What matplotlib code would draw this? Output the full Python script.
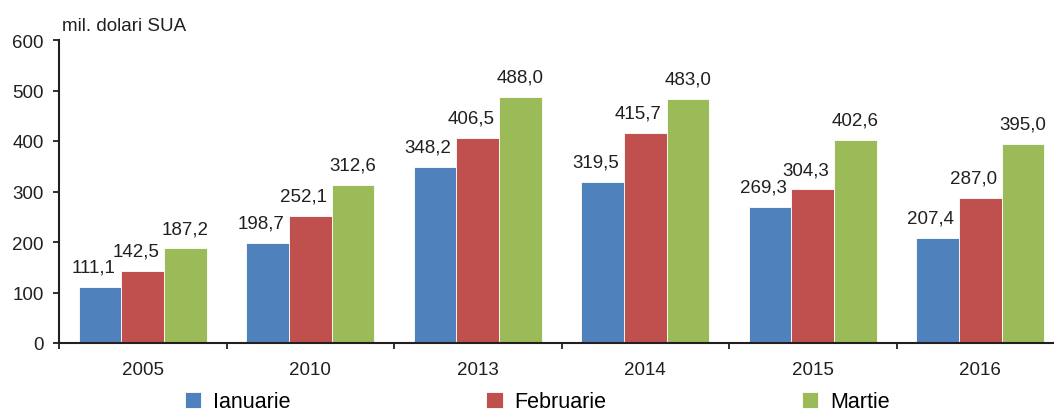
import matplotlib
matplotlib.use("Agg")
import matplotlib.pyplot as plt
import numpy as np

years = ["2005", "2010", "2013", "2014", "2015", "2016"]
series_names = ["Ianuarie", "Februarie", "Martie"]
ianuarie = [111.1, 198.7, 348.2, 319.5, 269.3, 207.4]
februarie = [142.5, 252.1, 406.5, 415.7, 304.3, 287.0]
martie = [187.2, 312.6, 488.0, 483.0, 402.6, 395.0]
yticks = [0, 100, 200, 300, 400, 500, 600]
unit_label = "mil. dolari SUA"

COLORS = ["#4F81BD", "#C0504D", "#9BBB59"]
LABEL_DX = [-5, -5, 0]   # excel puts the labels a bit to the left
TEXT = "#231F20"
FS = 13.5

plt.rcParams["font.family"] = ["Liberation Sans", "DejaVu Sans"]

fig = plt.figure(figsize=(10.54, 4.14), dpi=100)
ax = fig.add_axes([59 / 1054, 1 - 344 / 414, 1005 / 1054, 303 / 414])

x = np.arange(len(years))
w = 0.255
for i, vals in enumerate([ianuarie, februarie, martie]):
    pos = x + (i - 1) * w
    ax.bar(pos, vals, width=w, color=COLORS[i], edgecolor="white",
           linewidth=0.6, label=series_names[i], zorder=2)
    for px, v in zip(pos, vals):
        ax.annotate(f"{v:.1f}".replace(".", ","), (px, v),
                    xytext=(LABEL_DX[i], 11), textcoords="offset points",
                    ha="center", va="baseline", fontsize=FS, color=TEXT)

ax.set_xlim(-0.5, len(years) - 0.5)
ax.set_ylim(0, 600)
ax.set_yticks(yticks)
ax.set_yticklabels([str(t) for t in yticks])
ax.set_xticks(x)
ax.set_xticklabels(years)
ax.set_xticks(np.arange(-0.5, len(years), 1.0), minor=True)

for s in ["top", "right"]:
    ax.spines[s].set_visible(False)
for s in ["left", "bottom"]:
    ax.spines[s].set_linewidth(1.5)
    ax.spines[s].set_color(TEXT)

ax.tick_params(axis="y", length=4.5, width=1.3, pad=6.5, labelsize=FS,
               colors=TEXT, direction="out")
ax.tick_params(axis="x", which="major", length=0, pad=13, labelsize=FS,
               colors=TEXT)
ax.tick_params(axis="x", which="minor", length=4.5, width=1.3,
               color=TEXT, direction="out")

fig.text(62 / 1054, 1 - 31 / 414, unit_label, fontsize=FS, color=TEXT,
         va="baseline", ha="left")

fig.legend(loc="lower left", bbox_to_anchor=(185 / 1054, 0.002), ncol=3,
           frameon=False, fontsize=15.5, handlelength=0.75, handleheight=0.75,
           handletextpad=0.55, columnspacing=9.1, borderpad=0,
           borderaxespad=0)

fig.savefig("out.png", dpi=100)
